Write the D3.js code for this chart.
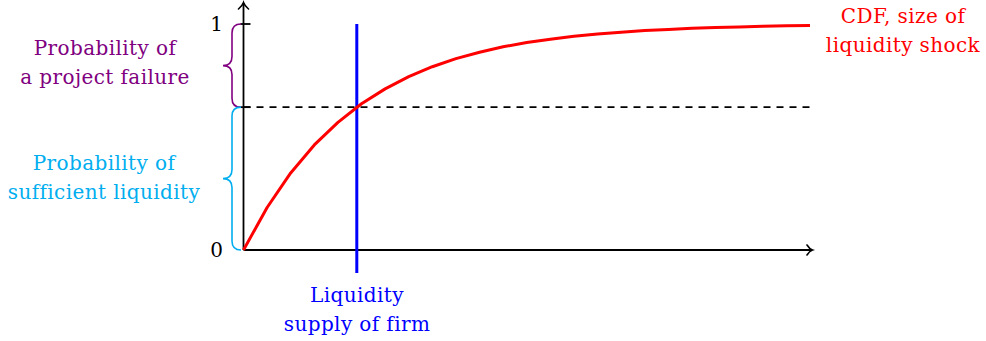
<!DOCTYPE html>
<html>
<head>
<meta charset="utf-8">
<script src="https://cdn.jsdelivr.net/npm/d3@7"></script>
<style>
  body { margin: 0; background: #fff; }
  text { font-family: "DejaVu Serif", "Liberation Serif", serif; }
</style>
</head>
<body>
<div id="chart"></div>
<script>
// Liquidity supply vs CDF of liquidity shock

const shockSize = [0, 0.0417, 0.0833, 0.125, 0.1667, 0.2083, 0.25, 0.2917, 0.3333,
  0.375, 0.4167, 0.4583, 0.5, 0.5417, 0.5833, 0.625, 0.6667, 0.7083, 0.75,
  0.7917, 0.8333, 0.875, 0.9167, 0.9583, 1];
const cdfValues = [0, 0.188, 0.341, 0.465, 0.565, 0.647, 0.713, 0.767, 0.811,
  0.847, 0.875, 0.899, 0.918, 0.933, 0.946, 0.956, 0.964, 0.971, 0.976,
  0.981, 0.984, 0.987, 0.990, 0.992, 0.993];

// Liquidity supply of firm and the matching probability
const liquiditySupply = 0.2;
const sufficientProb = 0.632;

// y tick labels
const yTicks = [0, 1];

const width = 986;
const height = 341;

const svg = d3.select("#chart")
  .append("svg")
  .attr("width", width)
  .attr("height", height);

const x = d3.scaleLinear().domain([0, 1]).range([243.5, 810]);
const y = d3.scaleLinear().domain([0, 1]).range([250, 24]);

// dashed horizontal line at the probability level
svg.append("line")
  .attr("x1", x(0)).attr("x2", x(1))
  .attr("y1", y(sufficientProb)).attr("y2", y(sufficientProb))
  .attr("stroke", "#000")
  .attr("stroke-width", 1.8)
  .attr("stroke-dasharray", "7,6");

// axes
svg.append("line")
  .attr("x1", x(0)).attr("x2", x(1) + 2)
  .attr("y1", y(0)).attr("y2", y(0))
  .attr("stroke", "#000").attr("stroke-width", 1.8);
svg.append("line")
  .attr("x1", x(0)).attr("x2", x(0))
  .attr("y1", y(0)).attr("y2", 3)
  .attr("stroke", "#000").attr("stroke-width", 1.8);

// arrow heads (open chevrons like tikz ->)
svg.append("path")
  .attr("d", `M${x(1) - 3},${y(0) - 5} Q${x(1) - 0.5},${y(0) - 1} ${x(1) + 2.5},${y(0)} Q${x(1) - 0.5},${y(0) + 1} ${x(1) - 3},${y(0) + 5}`)
  .attr("fill", "none").attr("stroke", "#000").attr("stroke-width", 1.6)
  .attr("stroke-linecap", "round");
svg.append("path")
  .attr("d", `M${x(0) - 5},9 Q${x(0) - 1},5.5 ${x(0)},2.5 Q${x(0) + 1},5.5 ${x(0) + 5},9`)
  .attr("fill", "none").attr("stroke", "#000").attr("stroke-width", 1.6)
  .attr("stroke-linecap", "round");

// y ticks and labels
svg.selectAll(".ytick")
  .data([1, sufficientProb])
  .enter()
  .append("line")
  .attr("class", "ytick")
  .attr("x1", x(0) - 3).attr("x2", x(0) + 7)
  .attr("y1", d => y(d)).attr("y2", d => y(d))
  .attr("stroke", "#000").attr("stroke-width", 1.8);

svg.selectAll(".ylabel")
  .data(yTicks)
  .enter()
  .append("text")
  .attr("class", "ylabel")
  .attr("x", x(0) - 27)
  .attr("y", d => y(d))
  .attr("dy", "0.35em")
  .attr("text-anchor", "middle")
  .style("font-size", "20px")
  .text(d => d);

// blue liquidity supply line
svg.append("line")
  .attr("x1", x(liquiditySupply)).attr("x2", x(liquiditySupply))
  .attr("y1", y(1)).attr("y2", y(0) + 23)
  .attr("stroke", "#0000ff").attr("stroke-width", 3);

// red CDF curve
const points = shockSize.map((s, i) => [s, cdfValues[i]]);
const line = d3.line()
  .x(d => x(d[0]))
  .y(d => y(d[1]));

svg.append("path")
  .datum(points)
  .attr("d", line)
  .attr("fill", "none")
  .attr("stroke", "#ff0000")
  .attr("stroke-width", 3)
  .attr("stroke-linejoin", "round");

// braces on the left of the y axis
function bracePath(xe, y0, y1) {
  const xs = xe - 9;
  const xt = xe - 18;
  const ym = (y0 + y1) / 2;
  return `M${xe},${y0} Q${xs},${y0} ${xs},${y0 + 9} L${xs},${ym - 9} Q${xs},${ym} ${xt},${ym}` +
    ` Q${xs},${ym} ${xs},${ym + 9} L${xs},${y1 - 9} Q${xs},${y1} ${xe},${y1}`;
}

svg.append("path")
  .attr("d", bracePath(x(0) - 2.5, y(1), y(sufficientProb)))
  .attr("fill", "none").attr("stroke", "#800080").attr("stroke-width", 1.6);
svg.append("path")
  .attr("d", bracePath(x(0) - 2.5, y(sufficientProb), y(0)))
  .attr("fill", "none").attr("stroke", "#00aeef").attr("stroke-width", 1.6);

// multi-line labels
function addLabel(lines, cx, cy, color) {
  const t = svg.append("text")
    .attr("text-anchor", "middle")
    .attr("fill", color)
    .style("font-size", "20px")
    .style("letter-spacing", "0.4px");
  lines.forEach((s, i) => {
    t.append("tspan")
      .attr("x", cx)
      .attr("y", cy + i * 29)
      .attr("dy", "0.35em")
      .text(s);
  });
}

addLabel(["Probability of", "a project failure"], 105, 48, "#800080");
addLabel(["Probability of", "sufficient liquidity"], 104, 163, "#00aeef");
addLabel(["CDF, size of", "liquidity shock"], 903, 16, "#ff0000");
addLabel(["Liquidity", "supply of firm"], 357, 295, "#0000ff");
</script>
</body>
</html>
